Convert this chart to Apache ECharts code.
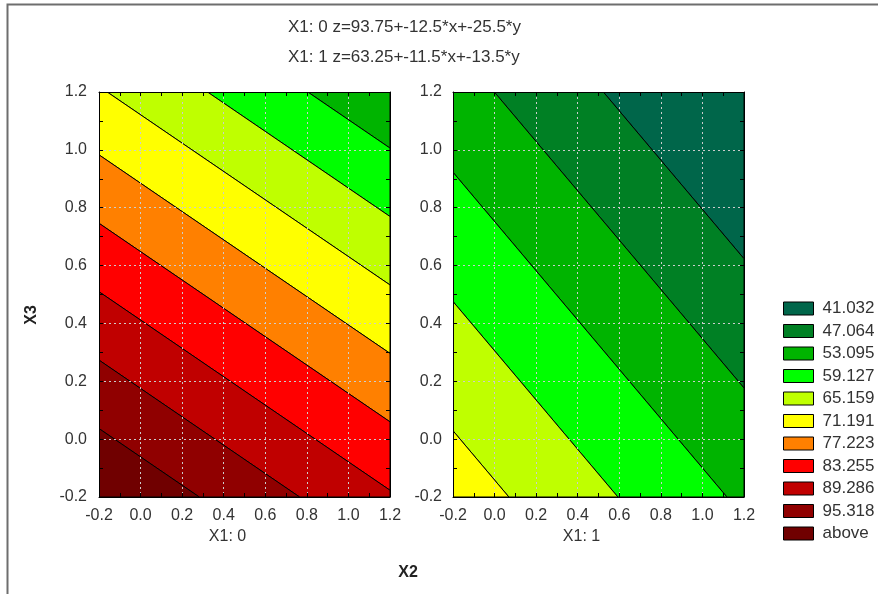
<!DOCTYPE html>
<html><head><meta charset="utf-8">
<script src="https://cdn.jsdelivr.net/npm/echarts@6/dist/echarts.min.js"></script>
<style>html,body{margin:0;padding:0;background:#fff}#c{width:878px;height:594px}</style>
</head><body><div id="c"></div>
<script>
// ---- data ----
const levels = [41.032, 47.064, 53.095, 59.127, 65.159, 71.191, 77.223, 83.255, 89.286, 95.318];
const legendLabels = ['41.032','47.064','53.095','59.127','65.159','71.191','77.223','83.255','89.286','95.318','above'];
const panelLabels = ['X1: 0', 'X1: 1'];
const intercepts = [93.75, 63.25];
const slopesX2 = [-12.5, -11.5];
const slopesX3 = [-25.5, -13.5];
const titleLines = ['X1: 0 z=93.75+-12.5*x+-25.5*y', 'X1: 1 z=63.25+-11.5*x+-13.5*y'];
const axisMin = -0.2, axisMax = 1.2, axisStep = 0.2;

// ---- styles ----
const bandColors = ['#00664a','#008024','#00b400','#00ff00','#bfff00','#ffff00','#ff8000','#ff0000','#c00000','#900000','#700000'];
const gridLefts = [99, 453];
const FONT = 'Arial, "Liberation Sans", sans-serif';

function clipPoly(poly, f) {
  const out = [];
  for (let i = 0; i < poly.length; i++) {
    const a = poly[i], b = poly[(i + 1) % poly.length];
    const fa = f(a), fb = f(b);
    if (fa >= 0) out.push(a);
    if ((fa >= 0) !== (fb >= 0)) {
      const t = fa / (fa - fb);
      out.push([a[0] + t * (b[0] - a[0]), a[1] + t * (b[1] - a[1])]);
    }
  }
  return out;
}

function bandPolygon(p, b) {
  const z = pt => intercepts[p] + slopesX2[p] * pt[0] + slopesX3[p] * pt[1];
  let poly = [[axisMin, axisMin], [axisMax, axisMin], [axisMax, axisMax], [axisMin, axisMax]];
  if (b > 0) { const lo = levels[b - 1]; poly = clipPoly(poly, pt => z(pt) - lo); }
  if (b < levels.length) { const hi = levels[b]; poly = clipPoly(poly, pt => hi - z(pt)); }
  return poly;
}

const grids = [], xAxes = [], yAxes = [], series = [];
panelLabels.forEach((lab, p) => {
  grids.push({left: gridLefts[p], top: 92, width: 291, height: 405});
  const common = {
    type: 'value', min: axisMin, max: axisMax, interval: axisStep, gridIndex: p, z: 10,
    axisLine: {show: true, onZero: false, lineStyle: {color: '#000', width: 1}},
    axisTick: {show: true, inside: true, length: 4, lineStyle: {color: '#000'}},
    minorTick: {show: true, splitNumber: 2, length: 4, lineStyle: {color: '#000'}},
  };
  const lbl = {color: '#333', fontSize: 16, fontFamily: FONT, formatter: v => v.toFixed(1)};
  xAxes.push(Object.assign({}, common, {
    position: 'bottom', name: lab, nameLocation: 'middle', nameGap: 32,
    nameTextStyle: {color: '#333', fontSize: 16, fontFamily: FONT, padding: [0, 34, 0, 0]},
    axisLabel: Object.assign({margin: 11}, lbl),
    splitLine: {show: true, lineStyle: {color: '#cccccc', type: [2, 3], width: 1}}
  }));
  xAxes.push(Object.assign({}, common, {position: 'top', axisLabel: {show: false}, splitLine: {show: false}}));
  yAxes.push(Object.assign({}, common, {
    position: 'left',
    axisLabel: Object.assign({margin: p === 0 ? 12 : 11}, lbl),
    splitLine: {show: true, lineStyle: {color: '#cccccc', type: [2, 3], width: 1}}
  }));
  yAxes.push(Object.assign({}, common, {position: 'right', axisLabel: {show: false}, splitLine: {show: false}}));
  legendLabels.forEach((name, b) => {
    series.push({
      type: 'custom', name: name, xAxisIndex: p * 2, yAxisIndex: p * 2, clip: true,
      itemStyle: {color: bandColors[b]},
      data: [[b]],
      encode: {x: -1, y: -1},
      renderItem: (params, api) => {
        const poly = bandPolygon(p, b);
        if (poly.length < 3) return null;
        return {
          type: 'polygon',
          shape: {points: poly.map(pt => api.coord(pt))},
          style: {fill: bandColors[b], stroke: '#000', lineWidth: 1}
        };
      }
    });
  });
});

const chart = echarts.init(document.getElementById('c'), null, {renderer: 'canvas'});
chart.setOption({
  animation: false,
  backgroundColor: '#fff',
  title: {
    text: titleLines.join('\n'), left: 288, top: 12, padding: 0,
    textStyle: {fontSize: 17, fontWeight: 'normal', color: '#333', fontFamily: FONT, lineHeight: 30}
  },
  grid: grids, xAxis: xAxes, yAxis: yAxes, series: series,
  legend: {
    data: legendLabels, orient: 'vertical', left: 783, top: 300, padding: 0, selectedMode: false,
    icon: 'rect', itemWidth: 30, itemHeight: 13, itemGap: 5.5,
    itemStyle: {borderColor: '#000', borderWidth: 1},
    textStyle: {fontSize: 17, color: '#333', fontFamily: FONT, lineHeight: 16, padding: [0, 0, 0, 4]}
  },
  graphic: [
    {type: 'rect', shape: {x: 7.5, y: 4.5, width: 1000, height: 1000}, style: {fill: null, stroke: '#6e6e6e', lineWidth: 2}, silent: true},
    {type: 'text', x: 408, y: 573, style: {text: 'X2', font: 'bold 16px ' + FONT, fill: '#222', align: 'center', verticalAlign: 'middle'}},
    {type: 'text', x: 32, y: 315, rotation: Math.PI / 2, style: {text: 'X3', font: 'bold 16px ' + FONT, fill: '#222', align: 'center', verticalAlign: 'middle'}}
  ]
});
</script></body></html>
